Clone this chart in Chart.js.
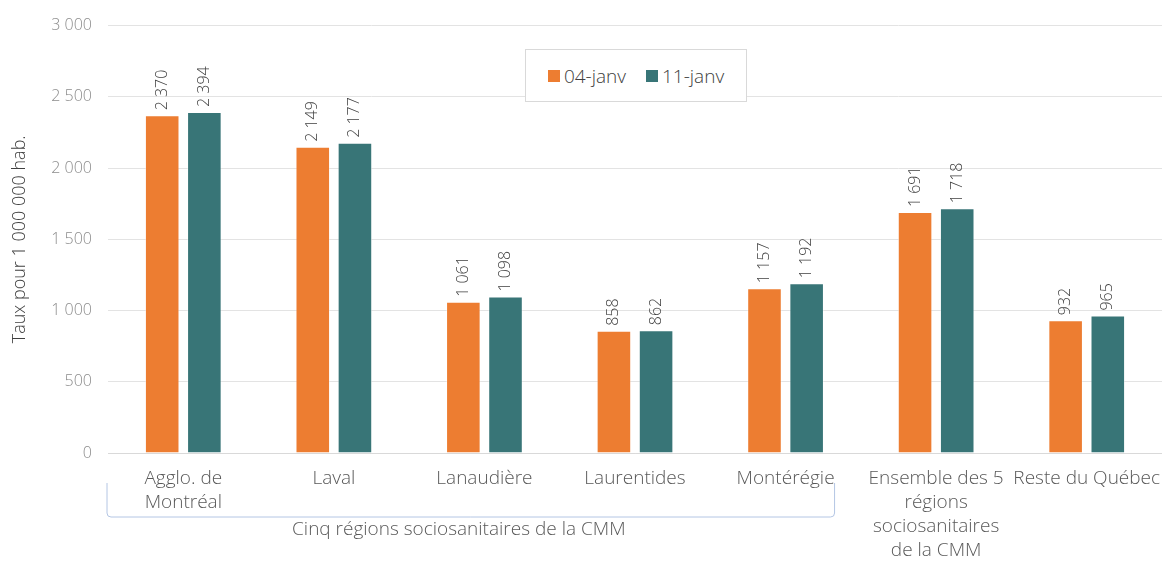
<!DOCTYPE html>
<html lang="fr">
<head>
<meta charset="utf-8">
<title>Taux pour 1 000 000 hab.</title>
<script src="https://cdn.jsdelivr.net/npm/chart.js@4/dist/chart.umd.min.js"></script>
<style>
    html, body { margin: 0; padding: 0; background: #fff; }
    #cadre { position: relative; width: 1162px; height: 562px; }
    #legende {
        position: absolute; left: 525px; top: 49px; width: 220px; height: 51px;
        border: 1px solid #d9d9d9; background: #fff;
        display: flex; align-items: center; justify-content: center; gap: 20px;
        font-family: "Open Sans", Lato, sans-serif; font-weight: 300; font-size: 19px; color: #404040;
    }
    #legende span.item { display: flex; align-items: center; gap: 4px; }
    #legende span.carre { width: 12px; height: 12px; display: inline-block; }
</style>
</head>
<body>
<div id="cadre">
    <canvas id="graphique" width="1162" height="562"></canvas>
    <div id="legende"></div>
</div>
<script>
// ── Données ─────────────────────────────────────────────
const categories = [
    ['Agglo. de', 'Montréal'],
    'Laval',
    'Lanaudière',
    'Laurentides',
    'Montérégie',
    ['Ensemble des 5', 'régions', 'sociosanitaires', 'de la CMM'],
    'Reste du Québec'
];
const serie0401 = [2370, 2149, 1061, 858, 1157, 1691, 932];
const serie1101 = [2394, 2177, 1098, 862, 1192, 1718, 965];
const nomsSeries = ['04-janv', '11-janv'];
const couleurs = ['#ED7D31', '#387577'];
const titreAxeY = 'Taux pour 1 000 000 hab.';
const titreGroupe = 'Cinq régions sociosanitaires de la CMM';
const nbGroupe = 5; // les 5 premières catégories sont regroupées

const police = '"Open Sans", Lato, sans-serif';

// "2 370" : séparateur de milliers par espace
function fmt(v) {
    return String(Math.round(v)).replace(/\B(?=(\d{3})+(?!\d))/g, ' ');
}

/* ── Étiquettes verticales au-dessus des barres ─────────── */
const etiquettesBarres = {
    id: 'etiquettesBarres',
    afterDatasetsDraw(chart) {
        const ctx = chart.ctx;
        ctx.save();
        ctx.font = '300 16px ' + police;
        ctx.fillStyle = '#404040';
        ctx.textAlign = 'left';
        ctx.textBaseline = 'middle';
        chart.data.datasets.forEach((ds, i) => {
            chart.getDatasetMeta(i).data.forEach((bar, j) => {
                ctx.save();
                ctx.translate(bar.x, bar.y - 5);
                ctx.rotate(-Math.PI / 2);
                ctx.fillText(fmt(ds.data[j]), 0, 0);
                ctx.restore();
            });
        });
        ctx.restore();
    }
};

/* ── Accolade sous les 5 régions de la CMM ──────────────── */
const accolade = {
    id: 'accolade',
    afterDraw(chart) {
        const ctx = chart.ctx;
        const x = chart.scales.x;
        const gauche = chart.chartArea.left - 1;
        const droite = x.getPixelForValue(nbGroupe - 1) + 49;
        const haut = 483, bas = 517, r = 4;
        ctx.save();
        ctx.strokeStyle = '#b4c6e4';
        ctx.lineWidth = 1;
        ctx.beginPath();
        ctx.moveTo(gauche, haut);
        ctx.lineTo(gauche, bas - r);
        ctx.quadraticCurveTo(gauche, bas, gauche + r, bas);
        ctx.lineTo(droite - r, bas);
        ctx.quadraticCurveTo(droite, bas, droite, bas - r);
        ctx.lineTo(droite, haut);
        ctx.stroke();
        ctx.font = '300 19px ' + police;
        ctx.fillStyle = '#595959';
        ctx.textAlign = 'center';
        ctx.textBaseline = 'middle';
        ctx.fillText(titreGroupe, (gauche + droite) / 2 - 12, 530);
        ctx.restore();
    }
};

const series = [serie0401, serie1101];

const graphique = new Chart(document.getElementById('graphique'), {
    type: 'bar',
    data: {
        labels: categories,
        datasets: series.map((d, i) => ({
            label: nomsSeries[i],
            data: d,
            backgroundColor: couleurs[i],
            borderColor: 'rgba(255,255,255,0.35)',
            borderWidth: 1,
            categoryPercentage: 0.56,
            barPercentage: 0.82
        }))
    },
    options: {
        responsive: false,
        animation: false,
        layout: { padding: { top: 17, right: 0, left: 0, bottom: 0 } },
        plugins: {
            legend: { display: false },
            tooltip: { enabled: false }
        },
        scales: {
            x: {
                grid: { display: false, drawTicks: false },
                border: { color: '#d9d9d9' },
                ticks: {
                    color: '#595959',
                    font: { family: police, size: 19, weight: 300, lineHeight: 1.25 },
                    padding: 14,
                    maxRotation: 0,
                    autoSkip: false
                },
                // le dernier libellé déborde à droite comme dans l'original
                afterFit: s => { s.height = 109; s.paddingLeft = 0; s.paddingRight = 0; }
            },
            y: {
                min: 0, max: 3000,
                grid: { color: '#e3e3e3', drawTicks: false },
                border: { display: false },
                ticks: {
                    stepSize: 500,
                    color: '#8c8c8c',
                    font: { family: police, size: 16, weight: 300 },
                    padding: 16,
                    callback: v => fmt(v)
                },
                title: {
                    display: true,
                    text: titreAxeY,
                    color: '#404040',
                    font: { family: police, size: 18, weight: 300 },
                    padding: { top: 9, bottom: 4 }
                },
                afterFit: s => { s.width = 108; }
            }
        }
    },
    plugins: [etiquettesBarres, accolade]
});

/* ── Légende HTML ───────────────────────────────────────── */
const legende = document.getElementById('legende');
graphique.data.datasets.forEach(ds => {
    const item = document.createElement('span');
    item.className = 'item';
    item.innerHTML = `<span class="carre" style="background:${ds.backgroundColor}"></span>${ds.label}`;
    legende.appendChild(item);
});
</script>
</body>
</html>
